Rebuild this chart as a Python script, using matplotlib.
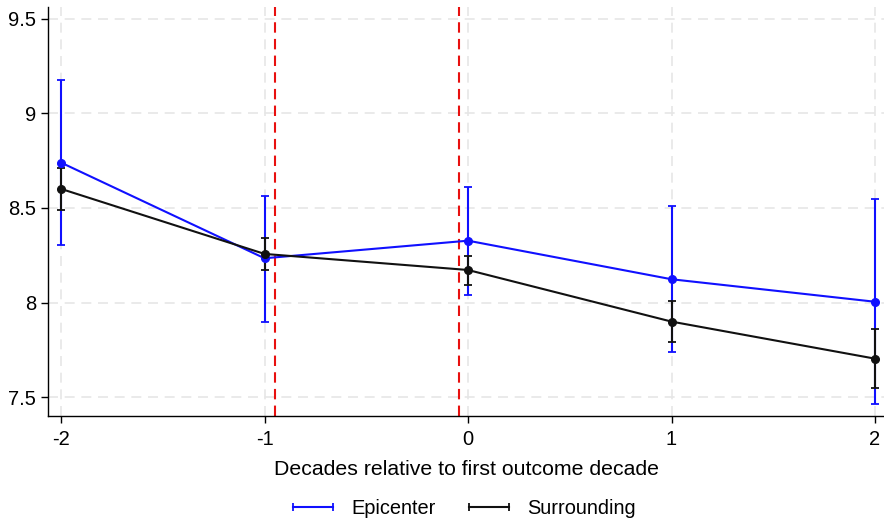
import matplotlib
matplotlib.use("Agg")
import matplotlib.pyplot as plt
from matplotlib.lines import Line2D

plt.rcParams['font.family'] = ['Liberation Sans', 'DejaVu Sans']

decades = [-2, -1, 0, 1, 2]

epi_mean = [8.74, 8.234, 8.327, 8.123, 8.004]
epi_lo = [8.304, 7.899, 8.04, 7.736, 7.465]
epi_hi = [9.177, 8.563, 8.611, 8.51, 8.55]

sur_mean = [8.601, 8.257, 8.172, 7.899, 7.703]
sur_lo = [8.489, 8.17, 8.093, 7.791, 7.549]
sur_hi = [8.713, 8.343, 8.246, 8.008, 7.858]

event_lines = [-0.95, -0.045]
yticks = [7.5, 8, 8.5, 9, 9.5]
ytick_labels = ["7.5", "8", "8.5", "9", "9.5"]

fig = plt.figure(figsize=(8.84, 5.18), dpi=100)
ax = fig.add_axes([0.0543, 0.197, 0.9457, 0.7895])

blue = '#1010ff'
black = '#111111'

for mean, lo, hi, col in [(epi_mean, epi_lo, epi_hi, blue),
                          (sur_mean, sur_lo, sur_hi, black)]:
    err = [[m - l for m, l in zip(mean, lo)], [h - m for m, h in zip(mean, hi)]]
    ax.errorbar(decades, mean, yerr=err, color=col, ecolor=col, lw=1.5,
                elinewidth=1.5, capsize=3, capthick=1.3, marker='o',
                markersize=5.5, zorder=3)

for xv in event_lines:
    ax.axvline(xv, color='#e8100f', lw=1.5, ls=(0, (5, 3)), zorder=2)

ax.set_xlim(-2.064, 2.044)
ax.set_ylim(7.40, 9.563)
ax.set_xticks(decades)
ax.set_xticklabels([str(d) for d in decades])
ax.set_yticks(yticks)
ax.set_yticklabels(ytick_labels)
ax.grid(True, color='#e6e6e6', ls=(0, (6, 4)), lw=1.2, zorder=0)
ax.set_axisbelow(True)
for s in ['top', 'right']:
    ax.spines[s].set_visible(False)
for s in ['left', 'bottom']:
    ax.spines[s].set_linewidth(1.0)
ax.tick_params(axis='both', labelsize=14.5, length=5, width=1, direction='out')
ax.tick_params(axis='x', pad=5)
ax.set_xlabel('Decades relative to first outcome decade', fontsize=15.3, labelpad=8)

handles = [Line2D([0, 1], [0, 0], color=blue, lw=1.5, marker='|', markersize=6, markeredgewidth=1.3),
           Line2D([0, 1], [0, 0], color=black, lw=1.5, marker='|', markersize=6, markeredgewidth=1.3)]
fig.legend(handles, ['Epicenter', 'Surrounding'], loc='center', bbox_to_anchor=(0.522, 0.019),
           ncol=2, frameon=False, numpoints=2, fontsize=14.4, handlelength=2.6,
           columnspacing=1.4, handletextpad=0.6)

fig.savefig('out.png', dpi=100)
